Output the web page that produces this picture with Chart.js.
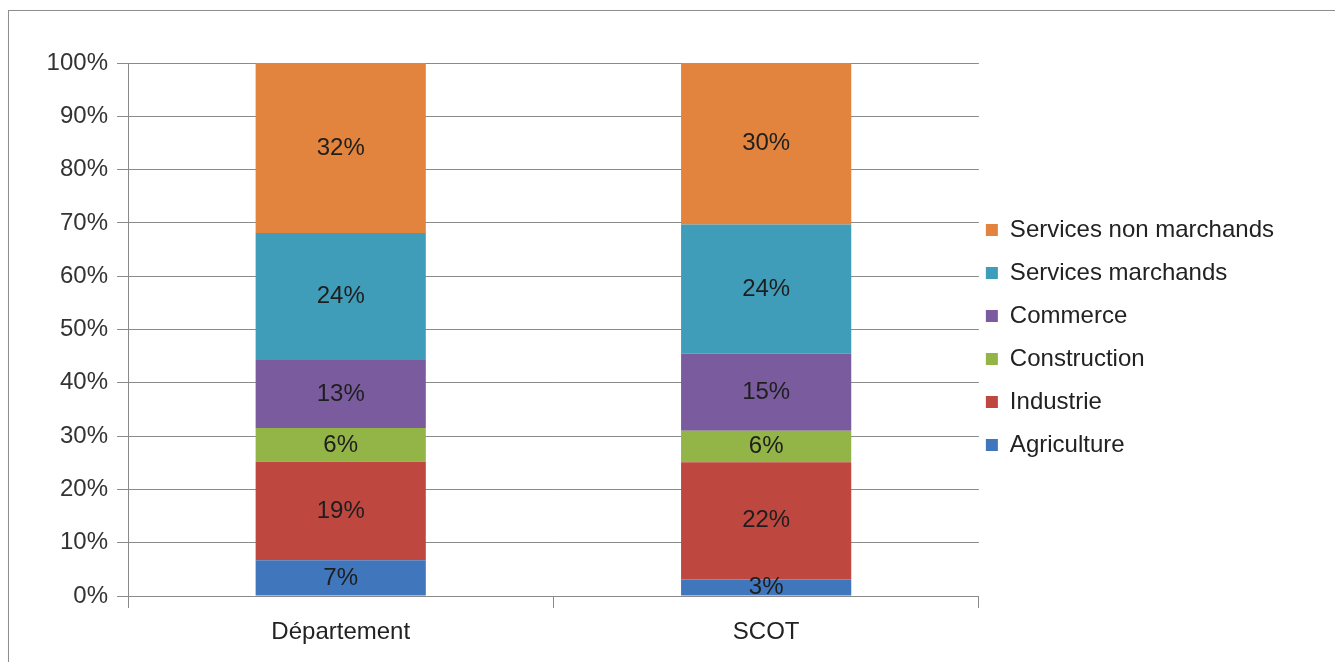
<!DOCTYPE html>
<html><head><meta charset="utf-8">
<script src="https://cdn.jsdelivr.net/npm/chart.js@4.4.0/dist/chart.umd.min.js"></script>
<style>
html,body{margin:0;padding:0;background:#fff;overflow:hidden;}
#frame{position:absolute;left:8px;top:10px;width:1400px;height:720px;border:1px solid #8e8e8e;box-shadow:1px 1px 2px rgba(0,0,0,0.18);background:#fff;}
#wrap{position:absolute;left:0;top:0;width:1335px;height:662px;}
</style></head>
<body>
<div id="frame"></div>
<div id="wrap"><canvas id="c" width="1335" height="662"></canvas></div>
<script>
const categories = ['Département', 'SCOT'];
const seriesNames = ['Agriculture', 'Industrie', 'Construction', 'Commerce', 'Services marchands', 'Services non marchands'];
const agriculture = [6.7, 3.1];
const industrie = [18.5, 22.0];
const construction = [6.3, 5.9];
const commerce = [12.8, 14.5];
const servicesMarchands = [23.8, 24.2];
const servicesNonMarchands = [31.9, 30.3];
const yTickValues = [0, 10, 20, 30, 40, 50, 60, 70, 80, 90, 100];
const seriesColors = ['#4076BC', '#BE4740', '#93B447', '#7A5C9E', '#3F9DBA', '#E2843D'];

const seriesValues = [agriculture, industrie, construction, commerce, servicesMarchands, servicesNonMarchands];
const FONT = '"Liberation Sans", Arial, sans-serif';
const GRID = '#8a8a8a';

const barLabels = {
  id: 'barLabels',
  afterDatasetsDraw(chart) {
    const ctx = chart.ctx;
    ctx.save();
    ctx.font = '24px ' + FONT;
    ctx.fillStyle = '#1e1e1e';
    ctx.textAlign = 'center';
    ctx.textBaseline = 'middle';
    chart.data.datasets.forEach((ds, i) => {
      const meta = chart.getDatasetMeta(i);
      meta.data.forEach((bar, j) => {
        const p = bar.getProps(['x', 'y', 'base'], true);
        ctx.fillText(Math.round(ds.data[j]) + '%', p.x, (p.y + p.base) / 2);
      });
    });
    ctx.restore();
  }
};

const legendPlace = {
  id: 'legendPlace',
  afterLayout(chart) {
    const lg = chart.legend;
    const pad = lg.options.labels.padding;
    const dx = (chart.chartArea.right + 7) - (lg.left + pad);
    lg.left += dx; lg.right += dx;
    const colH = lg.columnSizes[0].height;
    const y0 = (lg.top + pad + lg.bottom - colH) / 2;
    const dy = 218 - y0;
    lg.top += dy; lg.bottom += dy;
  }
};

new Chart(document.getElementById('c'), {
  type: 'bar',
  data: {
    labels: categories,
    datasets: seriesNames.map((n, i) => ({
      label: n,
      data: seriesValues[i],
      backgroundColor: seriesColors[i],
      borderWidth: 0,
      categoryPercentage: 1,
      barPercentage: 0.4
    }))
  },
  options: {
    responsive: false,
    animation: false,
    devicePixelRatio: 1,
    layout: { padding: { top: 63, left: 0, bottom: 0, right: 39 } },
    plugins: {
      legend: {
        position: 'right',
        reverse: true,
        fullSize: false,
        labels: {
          font: { family: FONT, size: 24 },
          color: '#222',
          boxWidth: 12,
          boxHeight: 12,
          padding: 19
        }
      },
      tooltip: { enabled: false },
      title: { display: false }
    },
    scales: {
      x: {
        stacked: true,
        grid: { offset: true, drawOnChartArea: false, drawTicks: true, tickLength: 12, color: GRID },
        border: { display: true, color: GRID },
        ticks: { font: { family: FONT, size: 24 }, color: '#222', padding: 10 },
        afterFit(scale) { scale.height = 66; }
      },
      y: {
        stacked: true,
        min: 0,
        max: 100,
        afterBuildTicks(scale) { scale.ticks = yTickValues.map(v => ({ value: v })); },
        grid: { color: GRID, tickLength: 11 },
        border: { display: true, color: GRID },
        ticks: { font: { family: FONT, size: 24 }, color: '#333', padding: 9, callback: v => v + '%' },
        afterFit(scale) { scale.width = 128; }
      }
    }
  },
  plugins: [barLabels, legendPlace]
});
</script>
</body></html>
